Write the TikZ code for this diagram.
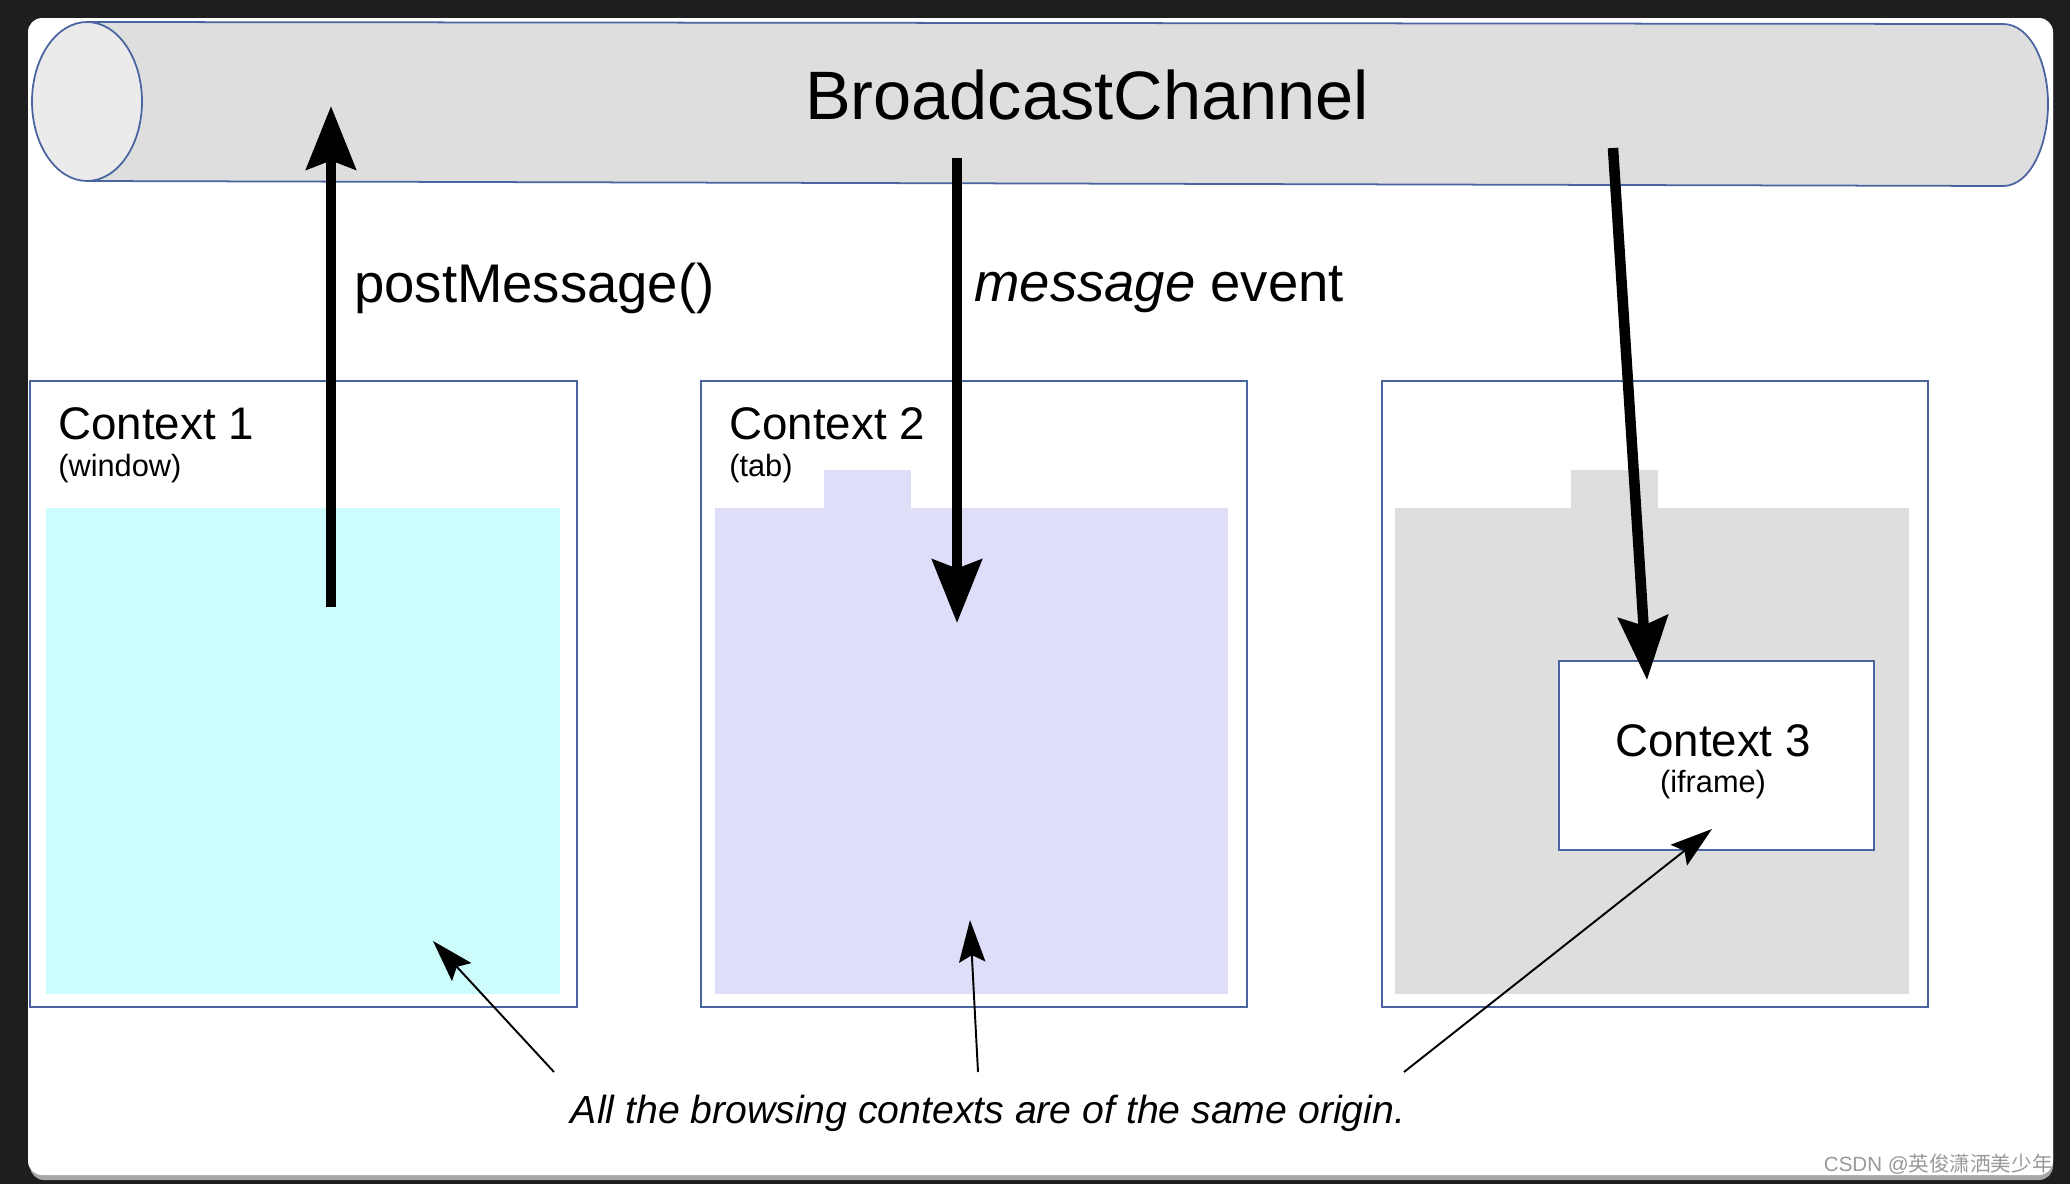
\documentclass[tikz,border=0pt]{standalone}
\usepackage{fontspec}
\setmainfont{Liberation Sans}
\newfontfamily\cjkfont{Noto Sans CJK SC}
\usetikzlibrary{arrows.meta}

\definecolor{pagebg}{HTML}{1E1E1E}
\definecolor{pipefill}{HTML}{DEDEDE}
\definecolor{pipeend}{HTML}{EBEBEB}
\definecolor{edgeblue}{HTML}{4A64A0}
\definecolor{windowfill}{HTML}{CCFCFC}
\definecolor{tabfill}{HTML}{DEDEF8}
\definecolor{framefill}{HTML}{DEDEDE}

\tikzset{
  ctxframe/.style={draw=edgeblue, line width=1.1pt, fill=white, minimum width=10.94cm, minimum height=12.52cm, inner sep=0pt, outer sep=0pt},
  pane/.style={minimum width=10.28cm, minimum height=9.72cm, inner sep=0pt, outer sep=0pt},
  tabbox/.style={minimum width=1.74cm, minimum height=0.76cm, inner sep=0pt, outer sep=0pt},
  ctxtitle/.style={anchor=west, font=\fontsize{26}{30}\selectfont, inner sep=0pt},
  ctxsub/.style={anchor=west, font=\fontsize{17.5}{20}\selectfont, inner sep=0pt},
  bigarrow/.style={line width=6pt, -{Stealth[length=36pt, width=28pt, inset=5pt]}},
  thinarrow/.style={line width=1.1pt, -{Stealth[length=24pt, width=15pt, inset=4pt]}},
}

\begin{document}
\begin{tikzpicture}[x=0.02cm, y=-0.02cm]
        \fill[pagebg] (0,0) rectangle (2070,1184);
        \fill[gray!70, rounded corners=8pt] (30,24) rectangle (2053,1180);
        \fill[white, rounded corners=8pt] (28,18) rectangle (2053,1175);

        \draw[edgeblue, line width=1pt, fill=pipefill] (87,22) -- (2003,24)
            .. controls (2030,24) and (2048,62) .. (2048,104)
            .. controls (2048,146) and (2030,186) .. (2003,186) -- (87,181);
        \draw[edgeblue, line width=1pt, fill=pipeend] (87,101.5) ellipse [x radius=1.1cm, y radius=1.59cm];
        \node (chan) at (1087,95) {\fontsize{39}{44}\selectfont BroadcastChannel};

        \node[ctxframe] (ctx1) at (303.5,694) {};
        \node[ctxframe] (ctx2) at (974,694) {};
        \node[ctxframe] (ctx3) at (1655,694) {};

        \node[pane, fill=windowfill] (pane1) at (303,751) {};
        \node[tabbox, fill=tabfill] (tab2) at (867.5,489) {};
        \node[pane, fill=tabfill] (pane2) at (971.5,751) {};
        \node[tabbox, fill=framefill] (tab3) at (1614.5,489) {};
        \node[pane, fill=framefill] (pane3) at (1652,751) {};
        \node[draw=edgeblue, line width=1.1pt, fill=white, minimum width=6.3cm, minimum height=3.78cm] (ifr) at (1716.5,755.5) {};

        \node[ctxtitle] (t1) at (58,424) {Context 1};
        \node[ctxsub] (s1) at (58,469) {(window)};
        \node[ctxtitle] (t2) at (729,424) {Context 2};
        \node[ctxsub] (s2) at (729,469) {(tab)};
        \node[font=\fontsize{26}{30}\selectfont, inner sep=0pt] (t3) at (1713,741) {Context 3};
        \node[font=\fontsize{17.5}{20}\selectfont, inner sep=0pt] (s3) at (1713,785) {(iframe)};

        \node[anchor=west, inner sep=0pt, font=\fontsize{31}{36}\selectfont] (post) at (354,288) {postMessage()};
        \node[anchor=west, inner sep=0pt, font=\fontsize{31}{36}\selectfont] (evt) at (974,290) {\textit{message} event};
        \node[font=\fontsize{22.3}{26}\selectfont\itshape] (note) at (988,1113) {All the browsing contexts are of the same origin.};
        \node[anchor=east, inner sep=0pt, text=gray!80, font=\fontsize{11.7}{14}\selectfont] (mark) at (2053,1164) {CSDN @{\cjkfont 英俊潇洒美少年}};

        \coordinate (post0) at (331,607);
        \coordinate (post1) at (331,106);
        \coordinate (evt0) at (957,158);
        \coordinate (evt1) at (957,623);
        \coordinate (ifr0) at (1613,148);
        \coordinate (ifr1) at (1647,680);
        \coordinate (n1) at (554,1072);
        \coordinate (n1t) at (433,941);
        \coordinate (n2) at (978,1072);
        \coordinate (n2t) at (970,920);
        \coordinate (n3) at (1404,1072);
        \coordinate (n3t) at (1712,829);

        \draw[bigarrow] (post0) -- (post1);
        \draw[bigarrow] (evt0) -- (evt1);
        \draw[bigarrow] (ifr0) -- (ifr1);
        \draw[thinarrow] (n1) -- (n1t);
        \draw[thinarrow] (n2) -- (n2t);
        \draw[thinarrow] (n3) -- (n3t);
    \end{tikzpicture}
\end{document}
